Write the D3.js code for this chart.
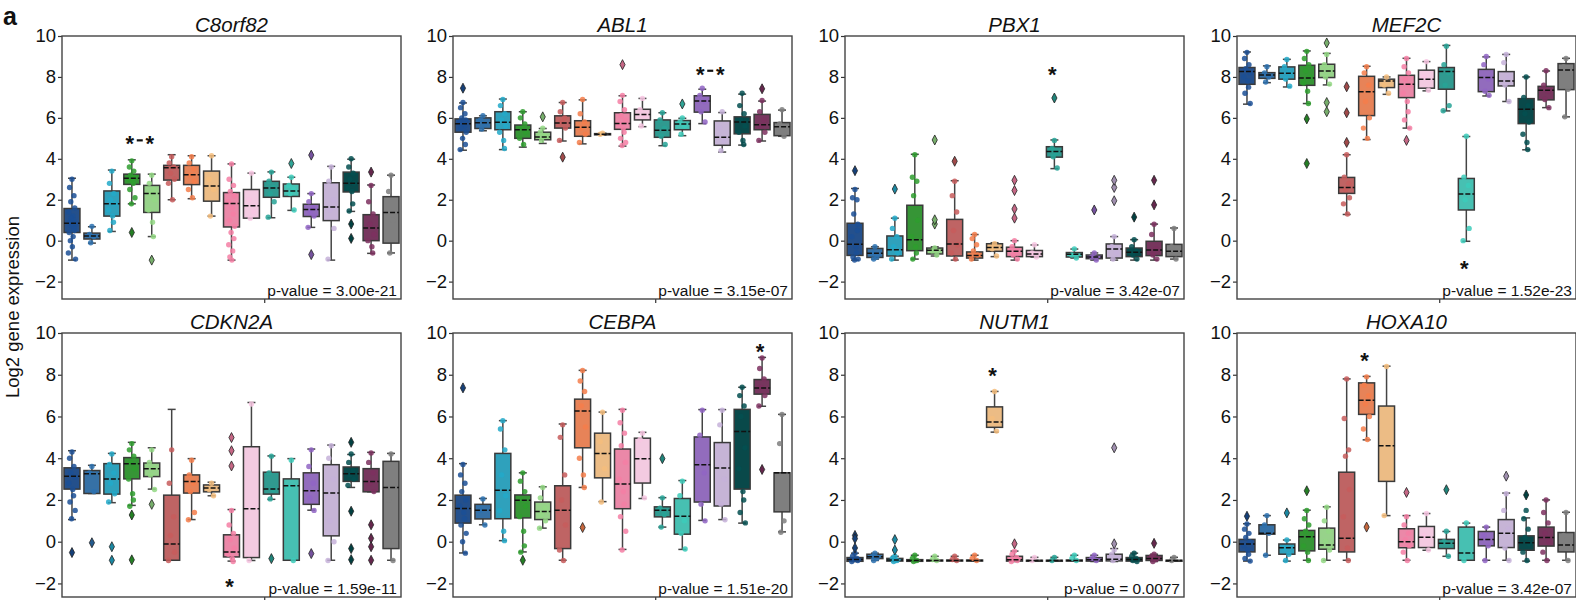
<!DOCTYPE html>
<html><head><meta charset="utf-8">
<script src="https://cdn.jsdelivr.net/npm/d3@7"></script>
<style>body{margin:0;background:#fff} svg{display:block} text{font-family:"Liberation Sans",Arial,sans-serif}</style>
</head><body><svg id="c" width="1576" height="600"></svg>
<script>
const genes = ["C8orf82","ABL1","PBX1","MEF2C","CDKN2A","CEBPA","NUTM1","HOXA10"];
const pValues = ["3.00e-21","3.15e-07","3.42e-07","1.52e-23","1.59e-11","1.51e-20","0.0077","3.42e-07"];
const categories = d3.range(1,18).map(i=>"G"+i);
const colors = ["#1b4f95","#2c71b0","#22a9c9","#2e9d2e","#93d884","#c75c5c","#f47e4b","#f5bd7c","#f47fa5","#f7c6e2","#27a397","#3ccbba","#9165c4","#c6b1d9","#034f50","#7d305f","#7f7f7f"];
const yTicks = [-2,0,2,4,6,8,10];
// stars: categories marked, value level
const starCats = [[3,4],[12,13],[10],[11],[8],[15],[7],[6]];
const starVals = [4.95,8.35,8.35,-1.15,-1.95,9.35,8.2,8.9];

// box stats per category: [lowWhisker, q1, median, q3, highWhisker]
const C8orf82_box = [[-0.95,0.4,0.85,1.57,3.05],[-0.12,0.08,0.23,0.37,0.68],[0.45,1.2,1.8,2.43,3.45],[1.8,2.75,3.05,3.25,3.95],[0.2,1.38,2.3,2.7,3.25],[2.0,2.96,3.56,3.68,4.2],[2.05,2.74,3.22,3.68,4.15],[1.2,1.93,2.67,3.4,4.15],[-0.95,0.67,1.82,2.35,3.75],[1.1,1.1,1.71,2.5,3.3],[1.12,2.12,2.57,2.9,3.36],[1.48,2.16,2.43,2.77,3.1],[0.65,1.18,1.52,1.78,2.3],[-0.95,0.98,1.65,2.83,3.63],[1.43,2.38,2.8,3.35,3.98],[-0.62,0.0,0.62,1.27,2.72],[-0.6,-0.12,1.38,2.15,3.2]];
const C8orf82_fliers = [[],[],[],[0.4],[-0.95],[],[],[],[],[],[],[3.77],[4.18,-0.68],[],[0.81,0.11],[3.35],[]];
const C8orf82_pts = [[3.0,2.6,2.2,1.9,1.6,1.4,1.2,1.0,0.9,0.8,0.7,0.5,0.4,0.2,0,-0.3,-0.6,-0.9,1.1,0.6],[0.7,0.3,0.2,-0.1],[3.4,2.8,2.3,2.0,1.8,1.5,1.2,0.9,0.5],[3.9,3.6,3.4,3.2,3.1,3.0,2.9,2.8,2.5,2.1,1.8],[3.2,2.8,2.5,2.3,2.0,1.5,0.9,0.2],[4.1,3.8,3.6,3.3,3.0,2.8,2.0],[4.1,3.8,3.5,3.2,2.9,2.5,2.1],[4.15,3.0,2.5,1.2],[3.75,3.0,2.7,2.4,2.2,1.9,1.6,1.3,1.0,0.7,0.4,0.1,-0.2,-0.5,-0.8,-0.95],[3.3,2.0,1.4,1.1],[3.35,2.9,2.6,2.3,1.9,1.15],[3.1,2.7,2.5,2.3,1.5],[2.3,1.9,1.6,1.4,1.2,0.65],[3.6,2.9,2.0,1.5,0.6,-0.9],[4.0,3.6,3.3,3.0,2.8,2.6,2.4,1.8,1.45],[2.7,1.9,1.3,0.8,0.3,0,-0.3,-0.6],[3.2,2.4,1.0,-0.6]];

const ABL1_box = [[4.42,5.3,5.71,5.95,6.73],[5.37,5.48,5.76,6.0,6.1],[4.45,5.42,5.78,6.3,6.92],[4.57,5.0,5.42,5.65,6.3],[4.75,4.93,5.06,5.3,5.48],[4.87,5.5,5.75,6.1,6.75],[4.73,5.1,5.54,5.86,6.88],[5.16,5.17,5.2,5.23,5.25],[4.62,5.44,5.72,6.25,7.08],[5.57,5.9,6.16,6.42,6.95],[4.64,5.05,5.4,5.9,6.25],[5.13,5.42,5.7,5.87,5.98],[5.72,6.28,6.82,7.08,7.4],[4.33,4.66,5.05,5.85,6.26],[4.67,5.22,5.8,6.05,7.16],[4.87,5.42,5.66,6.17,6.82],[5.1,5.13,5.57,5.77,6.38]];
const ABL1_fliers = [[7.45],[],[],[],[6.05],[4.08],[],[],[8.6],[],[],[6.68],[],[],[],[7.42],[]];
const ABL1_pts = [[6.75,6.5,6.2,6.0,5.9,5.8,5.7,5.6,5.5,5.3,5.0,4.7,4.45],[6.1,5.9,5.7,5.45],[6.9,6.6,6.2,5.9,5.6,5.3,4.9,4.5],[6.3,6.0,5.7,5.5,5.3,5.0,4.7],[5.5,5.3,5.1,4.9],[6.75,6.3,6.0,5.8,5.5,4.9],[6.9,6.2,5.8,5.5,5.2,4.8],[5.25,5.2],[7.1,6.8,6.4,6.1,5.9,5.7,5.5,5.3,5.0,4.8,4.65],[6.95,6.4,6.1,5.6],[6.25,5.9,5.5,5.1,4.7],[6.0,5.8,5.6,5.2],[7.45,7.1,6.8,6.3,5.8],[6.3,5.5,4.9,4.4],[7.2,6.6,6.2,5.9,5.6,5.3,4.9,4.7],[6.85,6.3,5.9,5.6,5.3,4.9],[6.4,5.7,5.1]];

const PBX1_box = [[-0.95,-0.72,-0.17,0.85,2.55],[-0.9,-0.82,-0.62,-0.38,-0.3],[-0.95,-0.75,-0.44,0.23,1.1],[-0.9,-0.49,0.04,1.73,4.22],[-0.75,-0.65,-0.47,-0.36,-0.3],[-0.95,-0.75,-0.16,1.04,2.93],[-0.95,-0.85,-0.72,-0.55,0.3],[-0.78,-0.52,-0.33,-0.15,-0.1],[-0.95,-0.78,-0.52,-0.32,0.0],[-0.8,-0.78,-0.65,-0.48,-0.21],[3.52,4.08,4.36,4.59,4.92],[-0.85,-0.8,-0.66,-0.58,-0.41],[-0.95,-0.88,-0.8,-0.7,-0.6],[-0.95,-0.85,-0.41,-0.16,0.2],[-0.95,-0.78,-0.57,-0.36,0.05],[-0.95,-0.73,-0.46,-0.03,0.81],[-0.9,-0.78,-0.52,-0.18,0.62]];
const PBX1_fliers = [[3.42],[],[2.52],[],[0.81,1.02,4.92],[3.88],[],[],[1.1,1.55,2.45,2.95],[],[6.97],[],[1.5],[1.95,2.6,2.95],[1.15],[1.75,2.95],[]];
const PBX1_pts = [[2.5,2.1,2.0,1.3,0.8,0.2,-0.3,-0.6,-0.8,-0.9,-0.95,0.5],[-0.3,-0.6,-0.8,-0.9],[1.1,0.6,0.2,-0.3,-0.6,-0.9],[4.2,3.1,2.9,2.2,1.0,0.2,-0.3,-0.6,-0.9],[-0.35,-0.5,-0.7],[2.9,2.2,1.4,0.5,-0.2,-0.6,-0.9],[0.3,0.1,-0.2,-0.5,-0.7,-0.9],[-0.15,-0.4,-0.75],[0,-0.3,-0.5,-0.7,-0.9],[-0.2,-0.6,-0.8],[4.9,4.5,4.3,4.1,3.55],[-0.4,-0.7,-0.85],[-0.6,-0.8,-0.95],[0.2,-0.3,-0.6,-0.9],[0.05,-0.3,-0.5,-0.7,-0.9],[0.8,0.3,-0.4,-0.7,-0.9],[0.6,-0.3,-0.9]];

const MEF2C_box = [[6.67,7.64,8.26,8.46,9.22],[7.72,7.93,8.1,8.21,8.54],[7.51,7.89,8.18,8.49,8.86],[6.7,7.59,7.95,8.57,9.27],[7.61,7.97,8.29,8.62,9.15],[1.28,2.31,2.6,3.09,4.2],[4.94,6.11,7.28,8.03,8.52],[7.15,7.48,7.8,7.89,8.0],[5.5,6.99,7.64,8.08,8.91],[7.32,7.45,7.89,8.33,8.75],[6.34,7.4,8.26,8.46,9.54],[-0.03,1.5,2.28,3.04,5.09],[7.07,7.28,7.97,8.37,8.98],[6.8,7.56,7.8,8.26,9.1],[4.44,5.72,6.42,6.94,8.0],[6.5,6.88,7.35,7.54,8.29],[6.05,7.38,8.34,8.65,8.91]];
const MEF2C_fliers = [[],[],[],[5.95,3.77],[9.66,6.75,6.3],[7.52,6.25,4.8],[],[],[4.9],[],[],[],[],[],[],[],[]];
const MEF2C_pts = [[9.2,8.9,8.6,8.4,8.2,8.0,7.8,7.5,7.2,6.7],[8.5,8.2,8.0,7.75],[8.85,8.5,8.2,7.9,7.55],[9.25,8.9,8.6,8.3,8.0,7.7,7.3,6.7],[9.1,8.6,8.3,8.0,7.65],[4.2,3.1,2.8,2.5,2.1,1.8,1.3],[8.5,8.2,7.6,6.8,6.0,5.5,5.0],[8.0,7.6,7.2],[8.9,8.5,8.2,7.9,7.6,7.2,6.8,6.3,5.9,5.5],[8.75,8.0,7.35],[9.5,8.6,8.2,7.6,6.6,6.35],[5.1,3.1,2.7,2.0,0.6,0],[9.0,8.6,7.9,7.3,7.1],[9.1,8.7,8.0,7.6,6.8],[8.0,7.0,6.6,6.2,5.8,5.2,4.8,4.45],[8.3,7.6,7.3,6.9,6.5],[8.9,8.5,7.4,6.05]];

const CDKN2A_box = [[1.06,2.52,3.14,3.54,4.36],[2.31,2.31,3.25,3.41,3.66],[1.87,2.28,3.01,3.74,4.23],[1.74,3.01,3.74,4.03,4.76],[2.52,3.12,3.5,3.77,4.5],[-0.89,-0.89,-0.11,2.23,6.34],[1.06,2.33,2.89,3.2,3.98],[2.2,2.39,2.57,2.72,2.85],[-0.93,-0.73,-0.49,0.33,1.54],[-0.9,-0.76,1.58,4.55,6.67],[2.03,2.28,2.52,3.33,4.11],[-0.89,-0.89,2.68,3.01,3.98],[1.51,1.79,2.44,3.3,4.44],[-0.89,0.28,2.33,3.69,4.63],[2.6,2.89,3.25,3.58,4.18],[2.39,2.39,2.88,3.5,4.28],[-0.89,-0.33,2.6,3.85,4.23]];
const CDKN2A_fliers = [[-0.52],[-0.05],[-0.24,-0.89],[1.28,-0.87],[1.79],[],[],[],[3.63,4.36,4.99],[],[-0.81],[],[-0.57],[],[4.76,1.46,-0.33,-0.86],[0.81,0.16,-0.24,-0.89],[]];
const CDKN2A_pts = [[4.3,4.0,3.6,3.3,3.1,2.8,2.5,2.2,1.9,1.5,1.1],[3.6,3.3,2.4],[4.2,3.7,3.3,2.8,2.3,1.9],[4.7,4.4,4.1,3.8,3.5,3.0,2.3,2.0,1.7],[4.4,3.8,3.5,3.2,2.5],[4.4,2.8,1.2,0.3,-0.5,-0.9],[3.9,3.2,2.8,2.4,1.4,1.05],[2.8,2.5,2.2],[1.5,0.8,0.4,0.1,-0.3,-0.6,-0.8,-0.95],[6.6,-0.9],[4.1,3.3,2.5,2.05],[3.9,2.6,-0.9],[4.4,3.6,2.8,2.1,1.5],[4.6,4.0,3.0,1.0,0,-0.9],[4.2,3.8,3.4,3.2,3.0,2.7],[4.25,3.8,3.3,2.8,2.4],[4.2,2.0,-0.9]];

const CEBPA_box = [[-0.54,0.89,1.59,2.23,3.74],[0.81,1.09,1.51,1.79,2.07],[0.05,1.1,2.47,4.23,5.8],[-0.49,1.14,1.98,2.24,3.3],[0.65,1.06,1.45,1.9,2.63],[-0.89,-0.33,1.51,2.68,5.64],[2.6,4.5,6.26,6.83,8.21],[1.92,3.06,4.23,5.2,6.21],[-0.37,1.58,2.76,4.44,6.34],[2.07,2.81,3.98,4.96,5.24],[0.7,1.19,1.51,1.67,2.11],[-0.37,0.36,1.22,2.07,2.93],[1.02,1.9,3.69,5.02,6.33],[1.06,1.71,3.53,4.75,6.33],[0.89,2.52,5.28,6.34,7.4],[6.49,7.07,7.37,7.77,8.83],[0.47,1.43,3.3,3.3,6.1]];
const CEBPA_fliers = [[7.37],[],[],[-0.89],[],[],[0.68],[],[],[],[3.98],[],[],[],[],[3.46],[]];
const CEBPA_pts = [[3.7,3.2,2.8,2.4,2.0,1.7,1.4,1.1,0.8,0.4,0,-0.55],[2.05,1.5,0.8],[5.8,5.4,4.4,3.2,2.2,1.5,0.5,0.05],[3.3,2.9,2.4,2.0,1.7,1.2,0.5,-0.2,-0.5],[2.6,2.1,1.6,1.3,1.0,0.65],[5.6,5.0,3.2,2.0,0.8,-0.4,-0.9],[8.2,7.7,7.2,6.5,5.5,4.0,3.2,2.6],[6.2,4.8,3.5,1.9],[6.3,5.7,5.2,4.6,3.8,3.0,2.4,1.8,1.2,0.5,-0.4],[5.2,4.9,2.1],[2.1,1.6,1.3,0.7],[2.9,2.2,1.0,0.4,-0.35],[6.3,5.1,3.3,1.8,1.0],[6.3,5.6,3.0,1.8,1.05],[7.4,7.0,6.5,6.0,4.5,3.5,2.4,2.0,1.4,0.9],[8.8,8.3,7.8,7.4,7.0,6.5],[6.1,4.7,1.0,0.45]];

const NUTM1_box = [[-0.95,-0.94,-0.85,-0.76,-0.55],[-0.9,-0.81,-0.72,-0.6,-0.55],[-0.95,-0.93,-0.88,-0.8,-0.7],[-0.95,-0.94,-0.9,-0.86,-0.65],[-0.93,-0.92,-0.9,-0.88,-0.7],[-0.93,-0.92,-0.9,-0.88,-0.7],[-0.93,-0.92,-0.9,-0.88,-0.65],[5.25,5.48,5.74,6.46,7.2],[-0.95,-0.93,-0.86,-0.7,-0.45],[-0.92,-0.91,-0.9,-0.89,-0.75],[-0.92,-0.91,-0.9,-0.89,-0.75],[-0.92,-0.91,-0.9,-0.88,-0.65],[-0.95,-0.93,-0.86,-0.76,-0.65],[-0.95,-0.92,-0.84,-0.6,-0.33],[-0.95,-0.93,-0.85,-0.76,-0.55],[-0.95,-0.9,-0.8,-0.66,-0.6],[-0.92,-0.91,-0.9,-0.89,-0.75]];
const NUTM1_fliers = [[0.3,0.15,-0.3],[],[0.1,-0.4],[],[],[],[],[],[-0.1],[],[],[],[],[-0.1,4.5],[],[-0.08],[]];
const NUTM1_pts = [[-0.55,-0.7,-0.8,-0.85,-0.9,-0.95],[-0.55,-0.7,-0.8,-0.9],[-0.7,-0.8,-0.9,-0.95],[-0.65,-0.8,-0.9,-0.95],[-0.7,-0.85,-0.9],[-0.7,-0.85,-0.9],[-0.65,-0.8,-0.9],[7.2,5.9,5.3],[-0.45,-0.6,-0.75,-0.85,-0.9,-0.95],[-0.75,-0.9],[-0.75,-0.9],[-0.65,-0.8,-0.9],[-0.65,-0.8,-0.9],[-0.4,-0.6,-0.8,-0.9],[-0.55,-0.7,-0.8,-0.9,-0.95],[-0.6,-0.7,-0.85,-0.95],[-0.75,-0.9]];

const HOXA10_box = [[-0.93,-0.49,-0.11,0.11,0.86],[-0.65,0.36,0.41,0.81,1.25],[-0.93,-0.6,-0.29,-0.11,0.08],[-0.89,-0.44,0.24,0.54,1.51],[-0.89,-0.36,-0.16,0.65,1.67],[-0.89,-0.49,0.16,3.33,7.8],[4.88,6.1,6.78,7.61,7.92],[1.25,2.89,4.6,6.5,8.41],[-0.89,-0.29,0.0,0.62,1.25],[-0.41,-0.28,0.21,0.73,1.35],[-0.7,-0.33,-0.08,0.11,0.49],[-0.89,-0.89,-0.54,0.7,0.89],[-0.89,-0.2,0.11,0.49,0.7],[-0.89,-0.28,0.41,1.06,2.33],[-0.93,-0.41,-0.05,0.28,1.14],[-0.89,-0.21,0.2,0.7,2.0],[-0.89,-0.49,-0.16,0.44,1.41]];
const HOXA10_fliers = [[1.22],[],[1.38],[2.44],[],[],[0.7],[],[2.36],[],[2.49],[],[],[3.14],[2.24],[],[]];
const HOXA10_pts = [[0.85,0.6,0.4,0.2,0,-0.2,-0.4,-0.6,-0.8,-0.93],[1.25,0.8,0.4,-0.65],[0.08,-0.3,-0.6,-0.9],[1.5,1.1,0.8,0.5,0.2,-0.2,-0.5,-0.9],[1.65,1.0,0.5,0,-0.4,-0.9],[7.8,5.9,4.4,4.1,2.5,1.2,-0.3,-0.9],[7.9,7.5,7.0,6.6,6.0,5.4,4.9],[8.4,1.25],[1.2,0.8,0.4,0.1,-0.2,-0.5,-0.9],[1.35,0.3,-0.4],[0.5,0,-0.7],[0.9,-0.9],[0.7,0.3,-0.2,-0.9],[2.3,1.5,0.6,-0.3,-0.9],[1.5,1.1,0.6,0.2,-0.1,-0.5,-0.9],[2.0,1.4,0.9,0.4,0,-0.5,-0.9],[1.4,0.3,-0.9]];

const boxData = [C8orf82_box,ABL1_box,PBX1_box,MEF2C_box,CDKN2A_box,CEBPA_box,NUTM1_box,HOXA10_box];
const flierData = [C8orf82_fliers,ABL1_fliers,PBX1_fliers,MEF2C_fliers,CDKN2A_fliers,CEBPA_fliers,NUTM1_fliers,HOXA10_fliers];
const ptsData = [C8orf82_pts,ABL1_pts,PBX1_pts,MEF2C_pts,CDKN2A_pts,CEBPA_pts,NUTM1_pts,HOXA10_pts];

// layout
const panelLeft = [62,453,845,1237], panelW = 339;
const rowTop = [36,333], rowH = [263,264], rowMin = [-2.85,-2.65];
const jitter = [0,-0.6,0.5,-0.3,0.7,-0.8,0.2,0.4,-0.5,0.8,-0.1,0.6,-0.7,0.3,-0.4,0.1,-0.9,0.9,-0.2,0.55];

const svg = d3.select("#c");
function fillCol(c){const h=d3.hsl(c); h.s*=0.85; return h.formatHex();}

genes.forEach((gene,g)=>{
  const col=g%4, row=Math.floor(g/4);
  const L=panelLeft[col], T=rowTop[row], H=rowH[row];
  const x=d3.scaleBand().domain(d3.range(categories.length)).range([L,L+panelW]).paddingInner(0.2).paddingOuter(0.1);
  const y=d3.scaleLinear().domain([rowMin[row],10]).range([T+H,T]);
  const bw=x.bandwidth();
  const G=svg.append("g");
  const ax=G.append("g").attr("transform",`translate(${L},0)`)
    .call(d3.axisLeft(y).tickValues(yTicks).tickSize(4).tickPadding(2));
  ax.select(".domain").remove();
  ax.selectAll("line").attr("stroke","#333").attr("stroke-width",1.2);
  ax.selectAll("text").attr("font-size",18.5).attr("fill","#111").attr("font-family","Liberation Sans, Arial, sans-serif");
  G.append("line").attr("x1",L+panelW*0.598).attr("x2",L+panelW*0.598).attr("y1",T+H).attr("y2",T+H+4).attr("stroke","#333").attr("stroke-width",1.2);

  boxData[g].forEach((s,i)=>{
    const [lo,q1,md,q3,hi]=s;
    const cx=x(i)+bw/2;
    const gg=G.append("g");
    gg.append("line").attr("x1",cx).attr("x2",cx).attr("y1",y(q3)).attr("y2",y(hi)).attr("stroke","#444").attr("stroke-width",1.5);
    gg.append("line").attr("x1",cx).attr("x2",cx).attr("y1",y(q1)).attr("y2",y(lo)).attr("stroke","#444").attr("stroke-width",1.5);
    [lo,hi].forEach(v=>gg.append("line").attr("x1",cx-bw/4).attr("x2",cx+bw/4).attr("y1",y(v)).attr("y2",y(v)).attr("stroke","#444").attr("stroke-width",1.5));
    gg.append("rect").attr("x",x(i)).attr("width",bw).attr("y",y(q3)).attr("height",Math.max(1,y(q1)-y(q3)))
      .attr("fill",fillCol(colors[i])).attr("stroke","#3a3a3a").attr("stroke-width",1.5);
    ptsData[g][i].forEach((v,k)=>{
      gg.append("circle").attr("cx",cx+jitter[k%jitter.length]*bw*0.25).attr("cy",y(v)).attr("r",2.7)
        .attr("fill",colors[i]).attr("opacity",0.85);
    });
    gg.append("line").attr("x1",x(i)).attr("x2",x(i)+bw).attr("y1",y(md)).attr("y2",y(md))
      .attr("stroke","#111").attr("stroke-width",1.5).attr("stroke-dasharray","5,2");
    flierData[g][i].forEach(v=>{
      const yy=y(v);
      gg.append("path").attr("d",`M${cx},${yy-5}L${cx+2.6},${yy}L${cx},${yy+5}L${cx-2.6},${yy}Z`)
        .attr("fill",d3.color(colors[i]).darker(0.6)).attr("stroke","#222").attr("stroke-width",0.8);
    });
  });
  const sc=starCats[g], sy=y(starVals[g]);
  sc.forEach(c=>{
    G.append("text").attr("x",x(c)+bw/2-2).attr("y",sy+12).attr("text-anchor","middle")
      .attr("font-size",22).attr("font-weight","bold").attr("fill","#111").text("*");
  });
  if(sc.length===2){
    const mx=(x(sc[0])+x(sc[1]))/2+bw/2-2;
    G.append("line").attr("x1",mx-3).attr("x2",mx+3).attr("y1",sy+1).attr("y2",sy+1).attr("stroke","#111").attr("stroke-width",2.2);
  }
  G.append("rect").attr("x",L).attr("y",T).attr("width",panelW).attr("height",H)
    .attr("fill","none").attr("stroke","#444").attr("stroke-width",1.4);
  G.append("text").attr("x",L+panelW/2).attr("y",T-4).attr("text-anchor","middle")
    .attr("font-size",20.5).attr("font-style","italic").attr("fill","#111").text(gene);
  G.append("text").attr("x",L+panelW-4).attr("y",T+H-3).attr("text-anchor","end")
    .attr("font-size",15.5).attr("fill","#111").text("p-value = "+pValues[g]);
});

svg.append("text").attr("transform","translate(19,307) rotate(-90)").attr("text-anchor","middle")
  .attr("font-size",18.5).attr("fill","#111").text("Log2 gene expression");
svg.append("text").attr("x",3).attr("y",25).attr("font-size",25).attr("font-weight","bold").attr("fill","#111").text("a");
</script></body></html>
